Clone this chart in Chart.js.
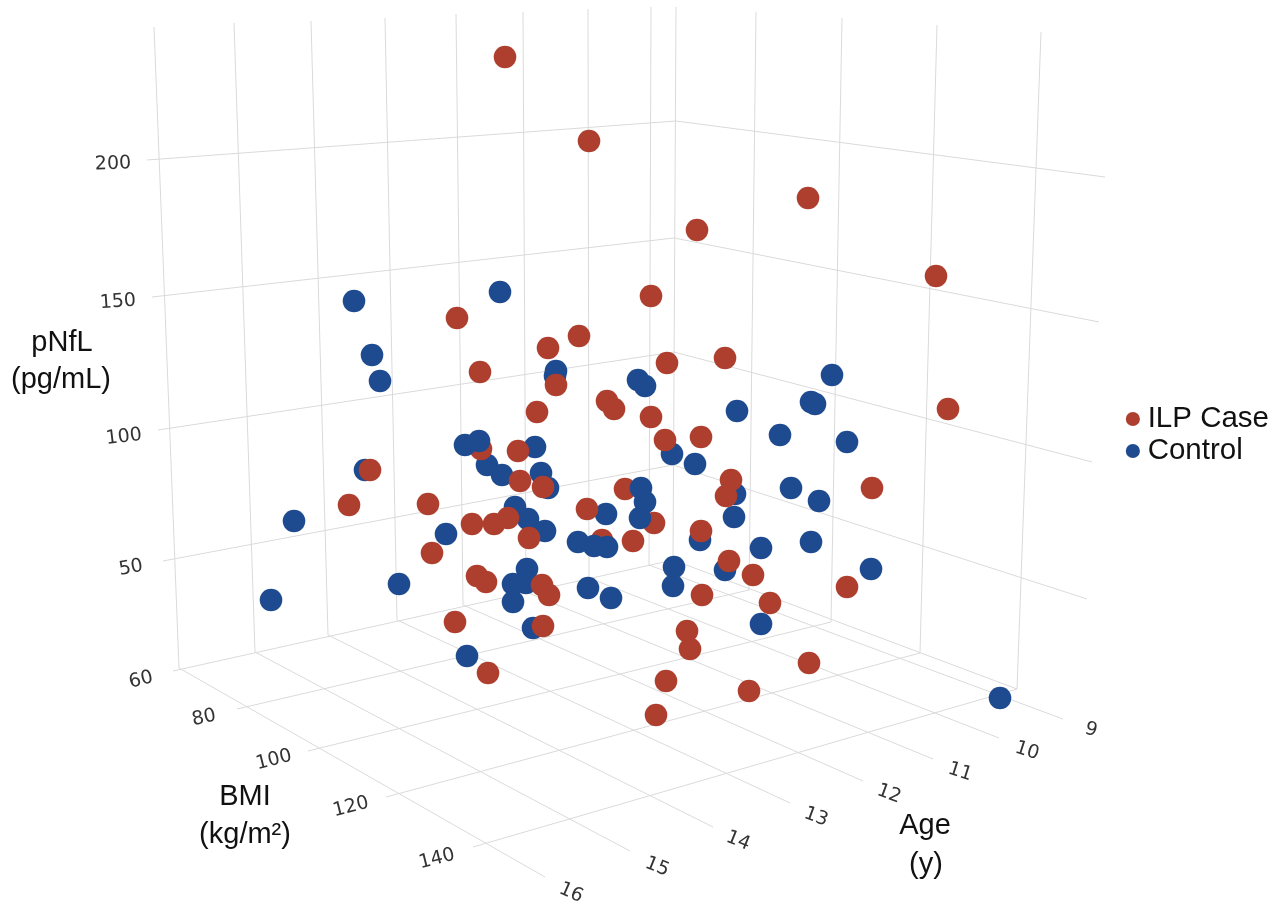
<!DOCTYPE html>
<html>
<head>
<meta charset="utf-8">
<style>html,body{margin:0;padding:0;background:#fff}canvas{display:block}</style>
<script src="https://cdn.jsdelivr.net/npm/chart.js@4/dist/chart.umd.min.js"></script>
</head>
<body>
<canvas id="c" width="1283" height="904"></canvas>
<script>
// Marks (the reference is a flat photograph of a 3D plot,
// so values are held in its projected plane).
const ilpX = [505,589,808,697,936,651,457,579,548,725,667,480,556,948,607,614,537,651,665,701,481,518,370,349,428,520,543,625,872,731,726,587,472,494,508,654,701,529,602,633,432,729,477,486,753,542,549,847,702,770,455,543,687,690,809,666,749,488,656];
const ilpY = [57,141,198,230,276,296,318,336,348,358,363,372,385,409,401,409,412,417,440,437,449,451,470,505,504,481,487,489,488,480,496,509,524,524,518,523,531,538,540,541,553,561,576,582,575,585,595,587,595,603,622,626,631,649,663,681,691,673,715];
const controlBackX = [354,500,372,380,556,555,638,645,737,832,811,815,780,847,535,487,502,541,548,515,528,545,446,399,606,527,513,526,513,588,611,533,467,674,673,672,695,700,791,819,735,734,761,811,725,871,761,365,294,271,1000];
const controlBackY = [301,292,355,381,371,376,380,386,411,375,402,404,435,442,447,465,475,473,488,507,519,531,534,584,514,569,584,583,602,588,598,628,656,567,586,454,464,540,488,501,494,517,548,542,570,569,624,470,521,600,698];
const controlFrontX = [465,479,641,645,640,578,594,607];
const controlFrontY = [445,441,488,502,518,542,546,547];

const pnflTicks = ['200','150','100','50'];
const bmiTicks  = ['60','80','100','120','140'];
const ageTicks  = ['9','10','11','12','13','14','15','16'];

// Grid segments [x1,y1,x2,y2] in the same plane
const gridLeftWall = [[154,27,179,668],[234,23,255,652],[311,21,328,635],[385,18,397,620],[456,14,463,605],[523,12,526,592],[588,9,589,578],[651,7,649,565],[676,7,673,560],
  [147,160,676,121],[152,297,674,238],[158,430,674,352],[163,561,673,465]];
const gridRightWall = [[756,12,749,590],[842,18,831,622],[937,25,920,653],[1041,32,1017,689],
  [676,121,1105,177],[674,238,1099,322],[674,352,1092,462],[673,465,1087,599]];
const gridFloor = [[173,671,673,560],[237,709,749,590],[308,751,831,622],[386,797,920,653],[473,847,1017,689],[673,560,1017,689],
  [179,668,545,877],[255,652,630,851],[328,635,713,827],[397,620,790,803],[463,605,863,781],[526,592,933,759],[589,578,999,738],[649,565,1063,719]];

// Text placement [x, y, rotationDeg]
const pnflPos = [[113,164,-2],[118,302,-4],[124,437,-7],[131,568,-10]];
const bmiPos  = [[141,680,-14],[204,718,-12],[274,760,-14],[351,807,-14],[437,859,-14]];
const agePos  = [[1091,730,15],[1027,751,18],[960,772,18],[889,794,20],[816,817,20],[738,841,22],[657,867,22],[571,893,24]];
const titles = [['pNfL',62,343],['(pg/mL)',61,380],['BMI',245,797],['(kg/m²)',245,835],['Age',925,826],['(y)',926,865]];

const RED = '#AE3F2E', BLUE = '#1E4A90', GRID = '#dadada';
const zip = (xs, ys) => xs.map((x, i) => ({x, y: ys[i]}));
const segs = a => a.flatMap(s => [{x:s[0],y:s[1]},{x:s[2],y:s[3]},{x:null,y:null}]);

const pts = (label, data, color, order) => ({
  type:'scatter', label, data, order, clip:false,
  backgroundColor:color, borderColor:color, pointBackgroundColor:color,
  pointBorderWidth:0, pointRadius:11.3, pointHoverRadius:11.3, pointStyle:'circle', showLine:false
});
const gridSet = (label, a) => ({
  type:'scatter', label, data:segs(a), order:10, clip:false, showLine:true, spanGaps:false,
  borderColor:GRID, backgroundColor:GRID, borderWidth:1, pointRadius:0, pointHoverRadius:0
});

const textPlugin = {
  id:'textLabels',
  afterDraw(chart){
    const {ctx, scales:{x, y}} = chart;
    const put = (list, pos) => list.forEach((t, i) => {
      ctx.save();
      ctx.translate(x.getPixelForValue(pos[i][0]), y.getPixelForValue(pos[i][1]));
      ctx.rotate(pos[i][2] * Math.PI / 180);
      ctx.fillText(t, 0, 0);
      ctx.restore();
    });
    ctx.save();
    ctx.textAlign = 'center'; ctx.textBaseline = 'middle';
    ctx.fillStyle = '#333'; ctx.font = '19px "DejaVu Sans"';
    put(pnflTicks, pnflPos); put(bmiTicks, bmiPos); put(ageTicks, agePos);
    ctx.fillStyle = '#111'; ctx.font = '29px "Liberation Sans"';
    titles.forEach(t => ctx.fillText(t[0], x.getPixelForValue(t[1]), y.getPixelForValue(t[2])));
    ctx.restore();
  }
};

const chart = new Chart(document.getElementById('c'), {
  data:{datasets:[
    pts('ILP Case', zip(ilpX, ilpY), RED, 2),
    pts('Control', zip(controlBackX, controlBackY), BLUE, 3),
    pts('Control (front)', zip(controlFrontX, controlFrontY), BLUE, 1),
    gridSet('left wall', gridLeftWall),
    gridSet('right wall', gridRightWall),
    gridSet('floor', gridFloor)
  ]},
  options:{
    responsive:false, animation:false, events:[],
    layout:{padding:{bottom:34, right:4}},
    scales:{
      x:{type:'linear', display:false, min:0, max:1283},
      y:{type:'linear', display:false, min:0, max:904, reverse:true}
    },
    plugins:{
      tooltip:{enabled:false},
      legend:{
        display:true, position:'right', align:'center',
        labels:{
          usePointStyle:true, boxWidth:0.1, boxHeight:10, padding:2.5,
          color:'#111', font:{family:'"Liberation Sans"', size:29.5},
          filter:i => i.text === 'ILP Case' || i.text === 'Control'
        }
      }
    }
  },
  plugins:[textPlugin]
});
// The legend marker sits at the box edge, so draw it without the box clip.
chart.legend.draw = chart.legend._draw;
// Align the plane's units with the canvas once the legend has taken its room.
const a = chart.chartArea;
chart.options.scales.x.min = a.left; chart.options.scales.x.max = a.right;
chart.options.scales.y.min = a.top;  chart.options.scales.y.max = a.bottom;
chart.update('none');
</script>
</body>
</html>
